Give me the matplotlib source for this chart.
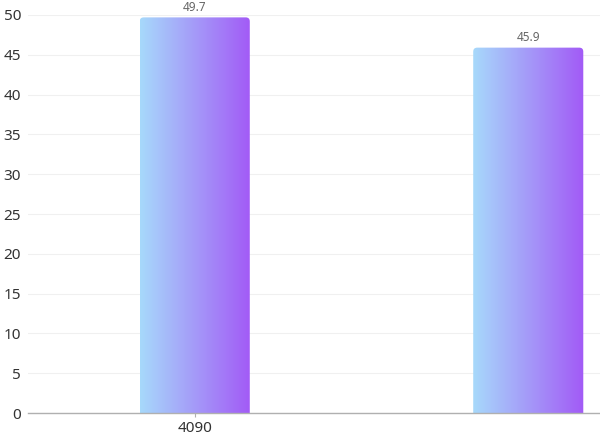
import numpy as np
import matplotlib.pyplot as plt
from matplotlib.colors import LinearSegmentedColormap
from matplotlib.patches import FancyBboxPatch

plt.rcParams['font.family'] = ['Noto Sans', 'DejaVu Sans']

categories = ['4090', '']
values = [49.7, 45.9]
yticks = [0, 5, 10, 15, 20, 25, 30, 35, 40, 45, 50]

W, H = 600, 440
fig = plt.figure(figsize=(6, 4.4), dpi=100)
# plot area runs past the right edge (the source image is cropped there)
left, right, bottom, top = 28, 695, 413, 15
ax = fig.add_axes([left / W, (H - bottom) / H, (right - left) / W, (bottom - top) / H])

ax.set_xlim(-0.5, 1.5)
ax.set_ylim(0, 50)
ax.set_yticks(yticks)
ax.grid(axis='y', color='#f0f0f0', linewidth=0.8)
ax.set_axisbelow(True)
for s in ['top', 'right', 'left']:
    ax.spines[s].set_visible(False)
ax.spines['bottom'].set_color('#b0b0b0')
ax.spines['bottom'].set_linewidth(1.0)
ax.tick_params(axis='y', length=0, labelsize=11, labelcolor='#333333', pad=5)
ax.tick_params(axis='x', length=3, color='#b0b0b0', labelsize=11, labelcolor='#333333', pad=3)
ax.set_xticks([0])
ax.set_xticklabels([categories[0]])

cmap = LinearSegmentedColormap.from_list('g', ['#a7d9fb', '#a25af6'])
grad = np.linspace(0, 1, 256).reshape(1, -1)

bar_w = 0.33
px_x = (right - left) / 2.0   # pixels per x unit
px_y = (bottom - top) / 50.0  # pixels per y unit
r_px = 4
rx = r_px / px_x
aspect = (r_px / px_y) / rx

bars = ax.bar(range(len(values)), values, width=bar_w, color='none', zorder=2)
for b, v in zip(bars, values):
    x0 = b.get_x()
    clip = FancyBboxPatch((x0, -3), bar_w, v + 3,
                          boxstyle='round,pad=0,rounding_size=%f' % rx,
                          mutation_aspect=aspect, transform=ax.transData,
                          facecolor='none', edgecolor='none')
    ax.add_patch(clip)
    im = ax.imshow(grad, cmap=cmap, extent=(x0, x0 + bar_w, 0, v),
                   aspect='auto', zorder=2, interpolation='bilinear')
    im.set_clip_path(clip)
    ax.text(b.get_x() + bar_w / 2, v + 0.4, '%.1f' % v, ha='center', va='bottom',
            fontsize=8.5, color='#666666')

ax.set_xlim(-0.5, 1.5)
ax.set_ylim(0, 50)
fig.savefig('out.png', dpi=100)
